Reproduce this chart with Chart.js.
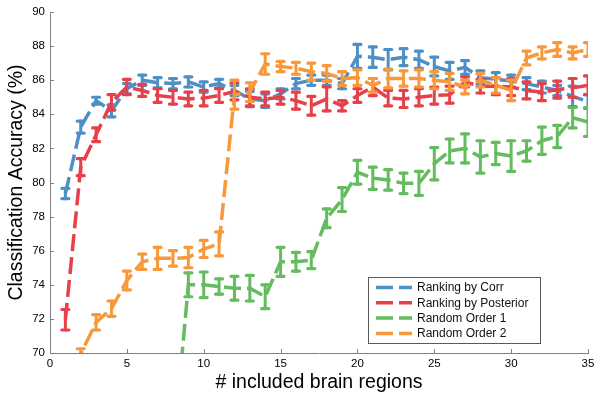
<!DOCTYPE html>
<html>
<head>
<meta charset="utf-8">
<script src="https://cdn.jsdelivr.net/npm/chart.js@4.4.1/dist/chart.umd.min.js"></script>
<style>
  html, body { margin: 0; padding: 0; background: #fff; }
</style>
</head>
<body>
<canvas id="myChart" width="604" height="401"></canvas>
<script>
// number of included regions (x axis)
const regions = [1, 2, 3, 4, 5, 6, 7, 8, 9, 10, 11, 12, 13, 14, 15, 16, 17, 18,
  19, 20, 21, 22, 23, 24, 25, 26, 27, 28, 29, 30, 31, 32, 33, 34, 35];

const corrMean = [79.35, 83.25, 84.8, 84.2, 85.5, 86.0, 85.85, 85.8, 85.9, 85.6, 85.8, 85.4,
  84.9, 84.8, 85.2, 85.8, 86.0, 86.0, 85.8, 87.4, 87.35, 87.2, 87.35, 87.2, 86.8, 86.55,
  86.75, 86.15, 86.05, 85.95, 85.8, 85.6, 85.4, 85.05, 84.75];
const corrErr = [0.3, 0.35, 0.2, 0.35, 0.3, 0.3, 0.3, 0.3, 0.3, 0.3, 0.25, 0.3, 0.45, 0.4,
  0.3, 0.3, 0.3, 0.3, 0.3, 0.7, 0.6, 0.6, 0.5, 0.5, 0.55, 0.5, 0.4, 0.4, 0.4, 0.35, 0.35,
  0.35, 0.3, 0.6, 0.4];

const posteriorMean = [71.95, 80.9, 82.8, 84.7, 85.6, 85.4, 85.1, 85.0, 84.9, 84.95, 85.1,
  85.35, 85.0, 84.9, 85.0, 84.8, 84.5, 84.9, 84.5, 85.1, 85.6, 84.95, 84.9, 85.0, 85.1,
  85.15, 85.9, 85.65, 85.65, 85.6, 85.4, 85.3, 85.45, 85.55, 85.7];
const posteriorErr = [0.6, 0.5, 0.4, 0.45, 0.45, 0.35, 0.4, 0.4, 0.4, 0.45, 0.4, 0.5, 0.5,
  0.4, 0.4, 0.5, 0.55, 0.7, 0.3, 0.4, 0.5, 0.45, 0.5, 0.5, 0.5, 0.5, 0.3, 0.4, 0.5, 0.5,
  0.5, 0.5, 0.5, 0.55, 0.55];

const random1Mean = [null, null, null, null, null, null, null, 64.0, 74.0, 74.0, 73.9, 73.8,
  73.8, 73.3, 75.35, 75.35, 75.45, 77.9, 79.0, 80.6, 80.25, 80.15, 79.95, 79.95, 81.1,
  81.85, 82.0, 81.5, 81.7, 81.55, 81.85, 82.45, 82.7, 83.8, 83.55];
const random1Err = [null, null, null, null, null, null, null, 0.5, 0.7, 0.75, 0.45, 0.7,
  0.75, 0.7, 0.85, 0.55, 0.5, 0.55, 0.7, 0.7, 0.65, 0.6, 0.6, 0.7, 0.95, 0.7, 0.85, 0.95,
  0.65, 0.9, 0.6, 0.8, 0.65, 0.6, 0.85];

const random2Mean = [68.0, 69.95, 71.8, 72.6, 74.25, 75.35, 75.55, 75.55, 75.6, 76.1, 76.4,
  85.15, 85.3, 86.95, 86.8, 86.7, 86.5, 86.4, 86.1, 86.15, 85.7, 86.1, 86.1, 86.1, 86.0,
  85.9, 85.6, 86.0, 85.7, 85.4, 87.3, 87.6, 87.8, 87.6, 87.8];
const random2Err = [0.3, 0.3, 0.45, 0.45, 0.55, 0.45, 0.65, 0.45, 0.6, 0.5, 0.7, 0.85, 0.55,
  0.6, 0.3, 0.35, 0.5, 0.45, 0.4, 0.45, 0.4, 0.55, 0.45, 0.5, 0.5, 0.5, 0.4, 0.4, 0.45,
  0.6, 0.4, 0.35, 0.4, 0.35, 0.4];

const seriesNames = ['Ranking by Corr', 'Ranking by Posterior', 'Random Order 1', 'Random Order 2'];
const xTicks = [0, 5, 10, 15, 20, 25, 30, 35];
const yTicks = [70, 72, 74, 76, 78, 80, 82, 84, 86, 88, 90];

const FONT = '"Liberation Sans", Arial, Helvetica, sans-serif';
const AXIS_GRAY = '#808080';

function points(means) {
  return regions.map((x, i) => ({ x: x, y: means[i] }));
}

function makeSet(label, means, errs, color, order) {
  return {
    label: label,
    data: points(means),
    errors: errs,
    borderColor: color,
    backgroundColor: color,
    borderWidth: 3.5,
    borderDash: [17, 6],
    borderCapStyle: 'butt',
    pointRadius: 0,
    spanGaps: false,
    order: order
  };
}

// vertical error bars with caps, drawn right after each dataset's line
const errorBars = {
  id: 'errorBars',
  afterDatasetDraw(chart, args) {
    const ds = chart.data.datasets[args.index];
    if (!ds.errors) return;
    const xs = chart.scales.x, ys = chart.scales.y, area = chart.chartArea;
    const ctx = chart.ctx;
    ctx.save();
    ctx.beginPath();
    ctx.rect(area.left, area.top, area.right - area.left, area.bottom - area.top);
    ctx.clip();
    ctx.strokeStyle = ds.borderColor;
    ctx.lineCap = 'round';
    ctx.setLineDash([]);
    ds.data.forEach((p, i) => {
      const e = ds.errors[i];
      if (p.y == null || e == null) return;
      const px = xs.getPixelForValue(p.x);
      const top = ys.getPixelForValue(p.y + e);
      const bot = ys.getPixelForValue(p.y - e);
      ctx.lineWidth = 3;
      ctx.beginPath();
      ctx.moveTo(px, top);
      ctx.lineTo(px, bot);
      ctx.stroke();
      ctx.lineWidth = 3.2;
      ctx.beginPath();
      ctx.moveTo(px - 3.5, top);
      ctx.lineTo(px + 3.5, top);
      ctx.moveTo(px - 3.5, bot);
      ctx.lineTo(px + 3.5, bot);
      ctx.stroke();
    });
    ctx.restore();
  }
};

// inward tick marks and the boxed legend
const decorations = {
  id: 'decorations',
  afterDraw(chart) {
    const ctx = chart.ctx, area = chart.chartArea;
    const xs = chart.scales.x, ys = chart.scales.y;
    ctx.save();
    ctx.strokeStyle = AXIS_GRAY;
    ctx.lineWidth = 1;
    ctx.beginPath();
    xTicks.forEach(v => {
      const px = Math.round(xs.getPixelForValue(v)) + 0.5;
      ctx.moveTo(px, area.bottom);
      ctx.lineTo(px, area.bottom - 4);
    });
    yTicks.forEach(v => {
      const py = Math.round(ys.getPixelForValue(v)) + 0.5;
      ctx.moveTo(area.left, py);
      ctx.lineTo(area.left + 4, py);
    });
    ctx.stroke();

    // legend
    const w = 172, h = 66;
    const left = area.right - 48 - w;
    const top = area.bottom - 10 - h;
    ctx.fillStyle = '#fff';
    ctx.fillRect(left, top, w, h);
    ctx.strokeStyle = '#5a5a5a';
    ctx.strokeRect(left + 0.5, top + 0.5, w, h);
    ctx.font = '12px ' + FONT;
    ctx.textBaseline = 'middle';
    ctx.textAlign = 'left';
    chart.data.datasets.forEach((ds, i) => {
      const y = top + 10.5 + i * 15.3;
      ctx.strokeStyle = ds.borderColor;
      ctx.lineWidth = 3.5;
      ctx.setLineDash([17, 6]);
      ctx.beginPath();
      ctx.moveTo(left + 8, y);
      ctx.lineTo(left + 44, y);
      ctx.stroke();
      ctx.setLineDash([]);
      ctx.fillStyle = '#111';
      ctx.fillText(ds.label, left + 49, y + 0.5);
    });
    ctx.restore();
  }
};

const ctx = document.getElementById('myChart');
new Chart(ctx, {
  type: 'line',
  data: {
    datasets: [
      makeSet(seriesNames[0], corrMean, corrErr, '#4e8fc6', 4),
      makeSet(seriesNames[1], posteriorMean, posteriorErr, '#e8404a', 3),
      makeSet(seriesNames[2], random1Mean, random1Err, '#63bc5e', 2),
      makeSet(seriesNames[3], random2Mean, random2Err, '#f7993a', 1)
    ]
  },
  options: {
    responsive: false,
    animation: false,
    devicePixelRatio: 1,
    layout: { padding: { top: 12, right: 16, left: 0, bottom: 0 } },
    plugins: {
      legend: { display: false },
      tooltip: { enabled: false }
    },
    elements: { line: { tension: 0 } },
    scales: {
      x: {
        type: 'linear',
        min: 0,
        max: 35,
        afterBuildTicks: scale => { scale.ticks = xTicks.map(v => ({ value: v })); },
        ticks: { color: '#000', padding: 4, font: { family: FONT, size: 11.5 } },
        grid: { display: false, drawTicks: false },
        border: { color: AXIS_GRAY, width: 1 },
        title: {
          display: true,
          text: '# included brain regions',
          color: '#000',
          font: { family: FONT, size: 19.5 },
          padding: { top: 0, bottom: 7 }
        },
        afterFit: scale => { scale.height = 48; }
      },
      y: {
        min: 70,
        max: 90,
        afterBuildTicks: scale => { scale.ticks = yTicks.map(v => ({ value: v })); },
        ticks: { color: '#000', padding: 5, font: { family: FONT, size: 11.5 } },
        grid: { display: false, drawTicks: false },
        border: { color: AXIS_GRAY, width: 1 },
        title: {
          display: true,
          text: 'Classification Accuracy (%)',
          color: '#000',
          font: { family: FONT, size: 19.5 },
          padding: { top: 5, bottom: 0 }
        },
        afterFit: scale => { scale.width = 50; }
      }
    }
  },
  plugins: [errorBars, decorations]
});
</script>
</body>
</html>
